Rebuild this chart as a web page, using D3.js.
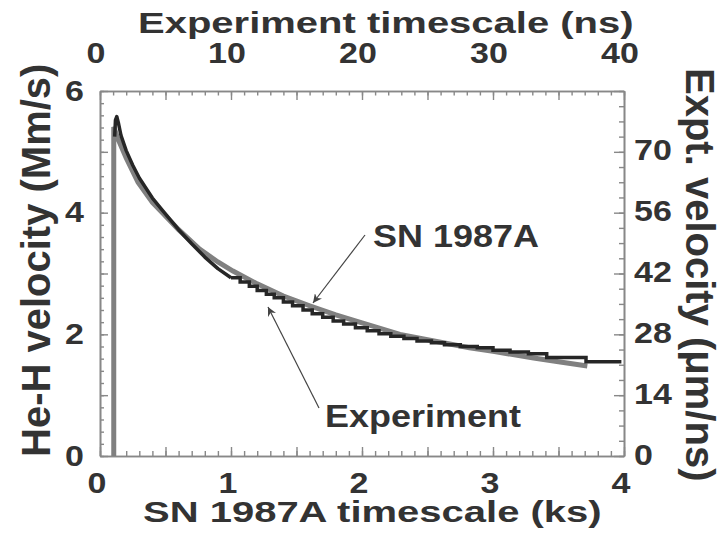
<!DOCTYPE html>
<html>
<head>
<meta charset="utf-8">
<script src="https://cdn.jsdelivr.net/npm/d3@7"></script>
<style type="text/css">
    body{ margin:0; padding:0; background-color:#FFFFFF; }
    svg text{ font-family:"Liberation Sans", Arial, Helvetica, sans-serif; font-weight:bold; fill:#333; }
</style>
</head>
<body>
<div id="chart"></div>
<script>
// tick labels
var ksTicks = [0, 1, 2, 3, 4];
var nsTicks = [0, 10, 20, 30, 40];
var velTicks = [0, 2, 4, 6];
var exptTicks = [0, 14, 28, 42, 56, 70];

// SN 1987A simulation (ks, Mm/s)
var snTime = [0.105, 0.105, 0.13, 0.16, 0.2, 0.29, 0.4, 0.48, 0.6, 0.76, 0.9, 1.015, 1.2, 1.4, 1.6, 1.8, 2.0, 2.29, 2.5, 2.82, 3.0, 3.31, 3.5, 3.72];
var snVel  = [0, 5.41, 5.25, 5.1, 4.9, 4.5, 4.17, 3.99, 3.72, 3.4, 3.19, 3.04, 2.83, 2.63, 2.47, 2.32, 2.19, 2.0, 1.91, 1.78, 1.72, 1.61, 1.55, 1.48];

// experiment, early smooth part
var expTime = [0.112, 0.118, 0.128, 0.14, 0.16, 0.2, 0.25, 0.3, 0.4, 0.48, 0.6, 0.7, 0.8, 0.9, 1.0];
var expVel  = [5.25, 5.52, 5.58, 5.48, 5.27, 5.02, 4.78, 4.57, 4.24, 4.03, 3.72, 3.49, 3.27, 3.08, 2.93];

// experiment, later stepped part
var expStepTime = [1.0, 1.07, 1.14, 1.2, 1.27, 1.33, 1.4, 1.47, 1.55, 1.62, 1.7, 1.78, 1.86, 1.95, 2.04, 2.13, 2.22, 2.32, 2.42, 2.53, 2.63, 2.75, 2.88, 3.0, 3.13, 3.27, 3.41, 3.71, 3.98];
var expStepVel  = [2.93, 2.86, 2.79, 2.72, 2.66, 2.6, 2.53, 2.47, 2.4, 2.34, 2.28, 2.22, 2.17, 2.11, 2.06, 2.01, 1.97, 1.93, 1.89, 1.86, 1.83, 1.8, 1.78, 1.74, 1.71, 1.68, 1.62, 1.55, 1.55];

var width = 725, height = 546;
var plotLeft = 100, plotRight = 624, plotTop = 91, plotBottom = 456;
var axisColor = "#888";

var svg = d3.select("#chart").append("svg")
    .attr("width", width)
    .attr("height", height);

var x = d3.scaleLinear().domain([0, 4]).range([plotLeft, plotRight]);
var xTop = d3.scaleLinear().domain([0, 40]).range([plotLeft, plotRight]);
var y = d3.scaleLinear().domain([0, 6]).range([plotBottom, plotTop]);
var yR = d3.scaleLinear().domain([0, 84]).range([plotBottom, plotTop]);

function drawTicks(axis, tr, values, size) {
    var g = svg.append("g")
        .attr("transform", tr)
        .call(axis.tickValues(values).tickSize(size).tickSizeOuter(0).tickFormat(""));
    g.select(".domain").attr("stroke", axisColor).attr("stroke-width", 1.6);
    g.selectAll(".tick line").attr("stroke", axisColor).attr("stroke-width", 1.4);
    return g;
}

// bottom: minor 0.1, major 0.5
drawTicks(d3.axisBottom(x), "translate(0," + plotBottom + ")", d3.range(0, 4.001, 0.1), -5);
drawTicks(d3.axisBottom(x), "translate(0," + plotBottom + ")", d3.range(0, 4.001, 0.5), -9);
// top: minor 1, major 5
drawTicks(d3.axisTop(xTop), "translate(0," + plotTop + ")", d3.range(0, 40.001, 1), -4.5);
drawTicks(d3.axisTop(xTop), "translate(0," + plotTop + ")", d3.range(0, 40.001, 5), -9);
// left: minor 0.2, major 1
drawTicks(d3.axisLeft(y), "translate(" + plotLeft + ",0)", d3.range(0, 6.001, 0.2), -4);
drawTicks(d3.axisLeft(y), "translate(" + plotLeft + ",0)", d3.range(0, 6.001, 1), -8);
// right: minor 3.5, major 14
drawTicks(d3.axisRight(yR), "translate(" + plotRight + ",0)", d3.range(0, 84.001, 3.5), -5);
drawTicks(d3.axisRight(yR), "translate(" + plotRight + ",0)", d3.range(0, 84.001, 14), -10);

function label(tx, ty, str, size, sy, anchor, rot) {
    var t = "translate(" + tx + "," + ty + ")";
    if (rot) t += " rotate(" + rot + ")";
    t += " scale(1," + sy + ")";
    return svg.append("text")
        .attr("transform", t)
        .attr("text-anchor", anchor)
        .style("font-size", size + "px")
        .text(str);
}

ksTicks.forEach(function(d) { label(x(d) - 3, 492.5, d, 34, 0.88, "middle"); });
nsTicks.forEach(function(d) { label(xTop(d) - 4, 63, d, 34, 0.88, "middle"); });
velTicks.forEach(function(d) { label(84, y(d) + 9.5, d, 34, 0.88, "end"); });
exptTicks.forEach(function(d) { label(634, yR(d) + 8.5, d, 34, 0.88, "start"); });

// titles
label(138, 33, "Experiment timescale (ns)", 40, 0.76, "start");
label(143, 522, "SN 1987A timescale (ks)", 40, 0.76, "start");
svg.append("text")
    .attr("transform", "translate(50,457) rotate(-90)")
    .style("font-size", "40px")
    .text("He-H velocity (Mm/s)");
svg.append("text")
    .attr("transform", "translate(686,68) rotate(90)")
    .style("font-size", "40px")
    .text("Expt. velocity (\u03bcm/ns)");

// curves
var line = d3.line()
    .x(function(d) { return x(d[0]); })
    .y(function(d) { return y(d[1]); });

svg.append("path")
    .datum(d3.zip(snTime, snVel))
    .attr("fill", "none")
    .attr("stroke", "#808080")
    .attr("stroke-width", 5)
    .attr("d", line);

svg.append("path")
    .datum(d3.zip(expTime, expVel))
    .attr("fill", "none")
    .attr("stroke", "#262626")
    .attr("stroke-width", 3.5)
    .attr("stroke-linejoin", "round")
    .attr("d", line);

svg.append("path")
    .datum(d3.zip(expStepTime, expStepVel))
    .attr("fill", "none")
    .attr("stroke", "#262626")
    .attr("stroke-width", 3.5)
    .attr("d", line.curve(d3.curveStepAfter));

// annotations
svg.append("defs").append("marker")
    .attr("id", "arrow")
    .attr("viewBox", "0 0 10 10")
    .attr("refX", 10).attr("refY", 5)
    .attr("markerWidth", 9).attr("markerHeight", 9)
    .attr("markerUnits", "userSpaceOnUse")
    .attr("orient", "auto")
    .append("path")
    .attr("d", "M0,0 L10,5 L0,10 L3,5 z")
    .attr("fill", "#444");

svg.append("line")
    .attr("x1", 365).attr("y1", 235).attr("x2", 313).attr("y2", 303)
    .attr("stroke", "#444").attr("stroke-width", 1.2)
    .attr("marker-end", "url(#arrow)");
svg.append("line")
    .attr("x1", 319).attr("y1", 408).attr("x2", 268).attr("y2", 307)
    .attr("stroke", "#444").attr("stroke-width", 1.2)
    .attr("marker-end", "url(#arrow)");

label(373, 246.5, "SN 1987A", 36, 0.86, "start");
label(325, 426.5, "Experiment", 36, 0.86, "start");
</script>
</body>
</html>
